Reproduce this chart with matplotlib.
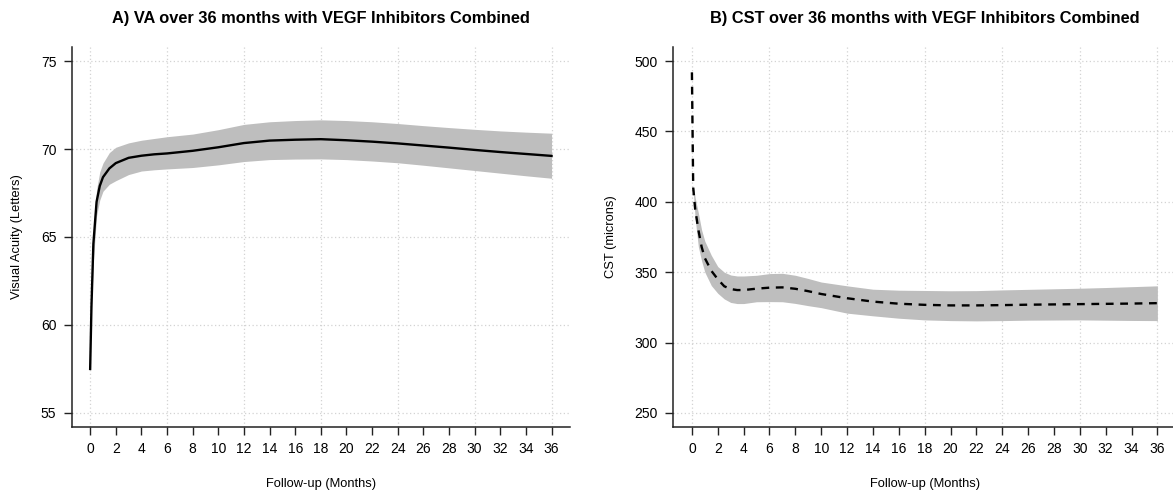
import numpy as np
import matplotlib
matplotlib.use("Agg")
import matplotlib.pyplot as plt

plt.rcParams['font.family'] = ['Liberation Sans', 'DejaVu Sans']

# VA (letters) over follow-up, smoothed mean with 95% band
va_months = [0, 0.1, 0.25, 0.5, 0.75, 1, 1.5, 2, 3, 4, 5, 6, 8, 10, 12, 14, 16, 18,
             20, 22, 24, 26, 28, 30, 32, 34, 36]
va_mean = [57.5, 61.0, 64.6, 67.0, 67.9, 68.4, 68.9, 69.2, 69.5, 69.62, 69.7, 69.75,
           69.9, 70.1, 70.34, 70.48, 70.53, 70.56, 70.5, 70.42, 70.32, 70.2, 70.08,
           69.95, 69.83, 69.72, 69.61]

va_band_months = [0.15, 0.25, 0.5, 0.75, 1, 1.5, 2, 3, 4, 5, 6, 8, 10, 12, 14, 16, 18,
                  20, 22, 24, 26, 28, 30, 32, 34, 36]
va_upper = [62.4, 65.4, 67.7, 68.7, 69.2, 69.8, 70.1, 70.35, 70.5, 70.6, 70.7, 70.85,
            71.1, 71.4, 71.55, 71.62, 71.66, 71.62, 71.55, 71.45, 71.33, 71.22, 71.12,
            71.03, 70.96, 70.9]
va_lower = [61.8, 63.6, 66.2, 67.1, 67.6, 68.0, 68.2, 68.55, 68.75, 68.82, 68.87, 68.95,
            69.1, 69.29, 69.4, 69.43, 69.44, 69.4, 69.32, 69.22, 69.08, 68.93, 68.78,
            68.63, 68.48, 68.34]

# CST (microns) over follow-up
cst_months = [0, 0.05, 0.1, 0.25, 0.5, 0.75, 1, 1.5, 2, 2.5, 3, 3.5, 4, 5, 6, 7, 8, 9,
              10, 12, 14, 16, 18, 20, 22, 24, 26, 28, 30, 32, 34, 36]
cst_mean = [492, 450, 410, 395, 380, 368, 360, 351, 345, 340, 338, 337.3, 337.3, 338.3,
            339, 339.2, 338.2, 336.5, 334.5, 331.5, 329.1, 327.6, 326.8, 326.4, 326.4,
            326.6, 326.9, 327.1, 327.3, 327.5, 327.7, 328]

cst_band_months = [0.1, 0.25, 0.5, 0.75, 1, 1.5, 2, 2.5, 3, 3.5, 4, 5, 6, 7, 8, 9, 10,
                   12, 14, 16, 18, 20, 22, 24, 26, 28, 30, 32, 34, 36]
cst_upper = [412, 403, 392, 380, 372, 362, 354, 350, 348, 347.3, 347.3, 347.8, 349,
             349.2, 347.8, 345.5, 343, 340.3, 337.9, 337.2, 337, 336.8, 336.9, 337.4,
             337.8, 338.2, 338.6, 339.1, 339.7, 340.3]
cst_lower = [408, 388, 368, 358, 350, 340.5, 335, 331, 328.5, 327.7, 327.7, 329, 329.1,
             329, 327.8, 326.2, 324.8, 320.9, 319, 317.3, 316.1, 315.6, 315.4, 315.6,
             315.9, 316, 316.1, 315.9, 315.7, 315.6]

x_ticks = np.arange(0, 37, 2)
x_grid = np.arange(0, 37, 6)
va_ticks = [55, 60, 65, 70, 75]
cst_ticks = [250, 300, 350, 400, 450, 500]

W, H = 1173, 493
fig = plt.figure(figsize=(W / 100, H / 100), dpi=100)


def px_axes(x0, x1, y0, y1):
    return fig.add_axes([x0 / W, 1 - y1 / H, (x1 - x0) / W, (y1 - y0) / H])


def style_axes(ax, yticks, ylim, title, ylabel):
    ax.set_xlim(-1.44, 37.44)
    ax.set_ylim(*ylim)
    for xv in x_grid:
        ax.axvline(xv, color='lightgray', ls=(0, (1, 2)), lw=0.9, zorder=0)
    for yv in yticks:
        ax.axhline(yv, color='lightgray', ls=(0, (1, 2)), lw=0.9, zorder=0)
    ax.set_xticks(x_ticks)
    ax.set_yticks(yticks)
    ax.tick_params(direction='out', length=6, width=1, labelsize=10, pad=5,
                   color='#222222')
    for s in ['top', 'right']:
        ax.spines[s].set_visible(False)
    for s in ['left', 'bottom']:
        ax.spines[s].set_linewidth(1.1)
        ax.spines[s].set_color('#222222')
    ax.set_title(title, fontsize=11.8, fontweight='bold', pad=17)
    ax.set_xlabel('Follow-up (Months)', fontsize=9.3, labelpad=16)
    ax.set_ylabel(ylabel, fontsize=9.3, labelpad=13)


ax1 = px_axes(71.7, 570, 47, 427)
ax1.fill_between(va_band_months, va_lower, va_upper, color='#bebebe', lw=0, zorder=1)
ax1.plot(va_months, va_mean, color='black', lw=1.7, zorder=2)
style_axes(ax1, va_ticks, (54.2, 75.8),
           'A) VA over 36 months with VEGF Inhibitors Combined',
           'Visual Acuity (Letters)')

ax2 = px_axes(673.3, 1176, 47, 427)
ax2.fill_between(cst_band_months, cst_lower, cst_upper, color='#bebebe', lw=0, zorder=1)
ax2.plot(cst_months, cst_mean, color='black', lw=1.7, ls=(0, (3.3, 2.8)), zorder=2)
style_axes(ax2, cst_ticks, (240, 510),
           'B) CST over 36 months with VEGF Inhibitors Combined',
           'CST (microns)')

fig.savefig('out.png', dpi=100)
